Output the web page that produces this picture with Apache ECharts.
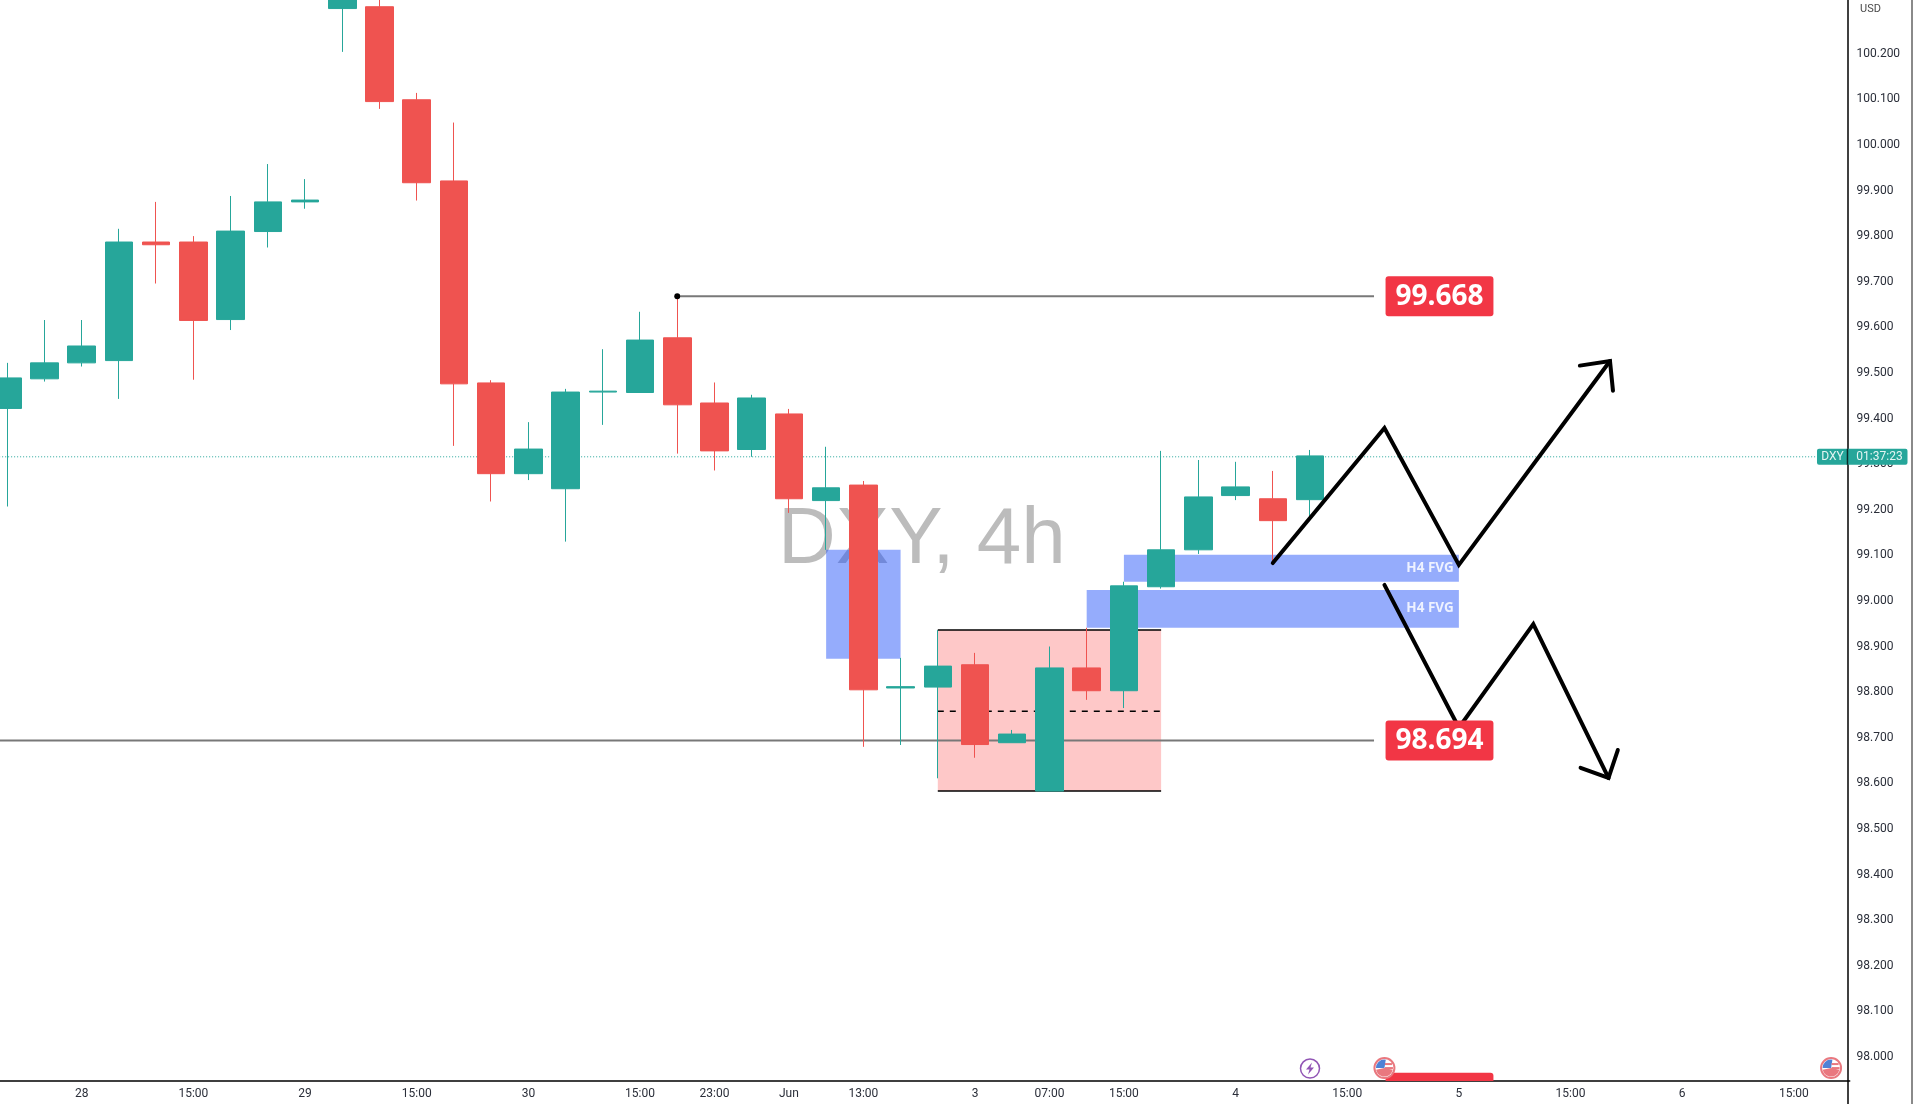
<!DOCTYPE html>
<html>
<head>
<meta charset="utf-8">
<title>DXY, 4h</title>
<style>
  html, body { margin: 0; padding: 0; background: #fff; width: 1913px; height: 1104px; overflow: hidden; }
  /* chart box is bigger than the window: candles and price axis run off the top and left edge */
  #main { position: absolute; left: -20px; top: -60px; width: 1933px; height: 1240px; }
</style>
<script src="https://cdn.jsdelivr.net/npm/echarts@6/dist/echarts.min.js"></script>
</head>
<body>
<div id="main"></div>
<script>
var categories = ['', '', '28', '', '', '15:00', '', '', '29', '', '', '15:00', '', '', '30', '', '', '15:00', '', '23:00',
    '', 'Jun', '', '13:00', '', '', '3', '', '07:00', '', '15:00', '', '', '4', '', '', '15:00', '', '', '5',
    '', '', '15:00', '', '', '6', '', '', '15:00', ''];

var opens = [99.422, 99.487, 99.522, 99.527, 99.787, 99.787, 99.617, 99.810, 99.875, 100.299, 100.303, 100.099,
    99.921, 99.478, 99.279, 99.246, 99.458, 99.457, 99.577, 99.434, 99.332, 99.410, 99.220, 99.254,
    98.809, 98.811, 98.860, 98.689, 98.583, 98.853, 98.803, 99.031, 99.112, 99.231, 99.224, 99.222];
var closes = [99.489, 99.522, 99.559, 99.787, 99.781, 99.615, 99.811, 99.875, 99.879, 100.351, 100.095, 99.917,
    99.476, 99.279, 99.333, 99.458, 99.460, 99.572, 99.430, 99.329, 99.445, 99.224, 99.248, 98.805,
    98.812, 98.857, 98.685, 98.708, 98.853, 98.803, 99.033, 99.112, 99.228, 99.250, 99.176, 99.318];
var lows = [99.207, 99.481, 99.514, 99.443, 99.696, 99.485, 99.594, 99.775, 99.860, 100.204, 100.079, 99.878,
    99.340, 99.218, 99.265, 99.130, 99.386, 99.457, 99.323, 99.286, 99.316, 99.193, 99.112, 98.680,
    98.684, 98.611, 98.656, 98.689, 98.583, 98.783, 98.765, 99.027, 99.103, 99.221, 99.083, 99.185];
var highs = [99.522, 99.616, 99.616, 99.816, 99.875, 99.800, 99.888, 99.958, 99.925, 100.373, 100.329, 100.114,
    100.049, 99.484, 99.392, 99.465, 99.552, 99.634, 99.669, 99.479, 99.452, 99.421, 99.338, 99.263,
    98.875, 98.936, 98.886, 98.717, 98.900, 98.941, 99.042, 99.329, 99.309, 99.305, 99.285, 99.331];

var lastPrice = 99.316;
var countdown = '01:37:23';
var levels = [99.668, 98.694];
// [from bar, to bar, top price, bottom price]
var fvgZones = [[22, 24, 99.112, 98.873], [30, 39, 99.101, 99.042], [29, 39, 99.024, 98.941]];
var pinkZone = [25, 31, 98.936, 98.583];
var pinkMid = 98.758;
var upPath = [[34, 99.083], [37, 99.379], [39, 99.079], [43.06, 99.526]];
var upHead = [[42.25, 99.516], [43.06, 99.526], [43.14, 99.461]];
var downPath = [[37, 99.035], [39, 98.722], [41, 98.949], [43.02, 98.612]];
var downHead = [[42.27, 98.634], [43.02, 98.612], [43.27, 98.673]];
var eventBarPrices = [97.965, 97.947];
var flagEventBars = [37, 49];
var boltEventBar = 35;

var candles = opens.map(function (o, i) {
    return [o, closes[i], lows[i], highs[i]];
});

var GREEN = '#26a69a';
var RED = '#ef5350';
var LABEL_RED = '#f23645';
var BLUE = 'rgba(33,82,248,0.48)';

// bar index may be fractional, the category axis only knows whole ones
function pt(api, x, price) {
    var ix = Math.max(0, Math.floor(x));
    var c = api.coord([ix, price]);
    c[0] += (x - ix) * api.size([1, 0])[0];
    return c;
}

function zoneRect(api, z, fill) {
    var a = pt(api, z[0], z[2]);
    var b = pt(api, z[1], z[3]);
    return { type: 'rect', shape: { x: a[0], y: a[1], width: b[0] - a[0], height: b[1] - a[1] }, style: { fill: fill } };
}

function hLine(api, x0, x1, price, stroke, width, dash) {
    var a = pt(api, x0, price);
    var b = pt(api, x1, price);
    return {
        type: 'line',
        shape: { x1: a[0], y1: a[1], x2: b[0], y2: b[1] },
        style: { stroke: stroke, lineWidth: width, lineDash: dash || null }
    };
}

function polyline(api, points) {
    return {
        type: 'polyline',
        shape: { points: points.map(function (p) { return pt(api, p[0], p[1]); }) },
        style: { stroke: '#000', lineWidth: 4, fill: null, lineJoin: 'miter', lineCap: 'round' }
    };
}

function renderZones(params, api) {
    var children = [];
    fvgZones.forEach(function (z) {
        children.push(zoneRect(api, z, BLUE));
    });
    children.push(zoneRect(api, pinkZone, '#fec8c8'));
    children.push(hLine(api, pinkZone[0], pinkZone[1], pinkZone[2], '#000', 1.5));
    children.push(hLine(api, pinkZone[0], pinkZone[1], pinkZone[3], '#000', 1.5));
    children.push(hLine(api, pinkZone[0], pinkZone[1], pinkMid, '#000', 1.5, [6, 6]));
    children.push(hLine(api, 18.08, 36.72, levels[0], '#787878', 2));
    children.push(hLine(api, -0.3, 36.72, levels[1], '#787878', 2));
    children.push(hLine(api, -0.3, 49.42, lastPrice, GREEN, 1, [1, 2]));
    return { type: 'group', children: children };
}

function renderLabels(params, api) {
    var band = api.size([1, 0])[0];
    var children = [];
    var dot = pt(api, 18, levels[0]);
    children.push({ type: 'circle', shape: { cx: dot[0], cy: dot[1], r: 3 }, style: { fill: '#000' } });
    [fvgZones[1], fvgZones[2]].forEach(function (z) {
        var c = pt(api, z[1], (z[2] + z[3]) / 2);
        children.push({
            type: 'text',
            style: { x: c[0] - 5, y: c[1] - 0.5, text: 'H4 FVG', fill: '#eef2ff', font: 'bold 13.5px "Open Sans"', align: 'right', verticalAlign: 'middle' }
        });
    });
    children.push(polyline(api, upPath), polyline(api, upHead), polyline(api, downPath), polyline(api, downHead));
    levels.forEach(function (p) {
        var c = pt(api, 37.03, p);
        children.push({
            type: 'rect',
            shape: { x: c[0], y: c[1] - 20, width: 4 * band - 41, height: 40, r: 3 },
            style: { fill: LABEL_RED }
        });
        children.push({
            type: 'text',
            style: { x: c[0] + (4 * band - 41) / 2, y: c[1] + 1, text: p.toFixed(3), fill: '#fff', font: 'bold 28px "Open Sans"', align: 'center', verticalAlign: 'middle' }
        });
    });
    var barTop = pt(api, 37.03, eventBarPrices[0]);
    var barBottom = pt(api, 37.03, eventBarPrices[1]);
    children.push({
        type: 'rect',
        shape: { x: barTop[0], y: barTop[1], width: 4 * band - 41, height: barBottom[1] - barTop[1], r: [3, 3, 0, 0] },
        style: { fill: LABEL_RED }
    });
    // event icons sit on the x axis
    flagEventBars.forEach(function (bar) {
        var c = [pt(api, bar, eventBarPrices[1])[0], barBottom[1] - 13];
        children.push({ type: 'circle', shape: { cx: c[0], cy: c[1], r: 10 }, style: { fill: '#fff', stroke: '#e9787f', lineWidth: 2 } });
        children.push({ type: 'sector', shape: { cx: c[0], cy: c[1], r: 8.5, r0: 0, startAngle: Math.PI, endAngle: Math.PI * 1.55 }, style: { fill: '#4f82d6' } });
        children.push({ type: 'rect', shape: { x: c[0] + 0.5, y: c[1] - 5, width: 7, height: 2 }, style: { fill: '#e9787f' } });
        children.push({ type: 'rect', shape: { x: c[0] + 0.5, y: c[1] - 1, width: 8, height: 2 }, style: { fill: '#e9787f' } });
        children.push({ type: 'sector', shape: { cx: c[0], cy: c[1], r: 8.5, r0: 0, startAngle: 0.2, endAngle: Math.PI - 0.2 }, style: { fill: '#e9787f' } });
    });
    var bolt = [pt(api, boltEventBar, eventBarPrices[1])[0], barBottom[1] - 12.5];
    children.push({ type: 'circle', shape: { cx: bolt[0], cy: bolt[1], r: 9.5 }, style: { fill: '#fff', stroke: '#9155b5', lineWidth: 1.5 } });
    children.push({
        type: 'polygon',
        shape: { points: [[bolt[0] + 2, bolt[1] - 6], [bolt[0] - 4, bolt[1] + 1], [bolt[0] - 0.5, bolt[1] + 1], [bolt[0] - 2, bolt[1] + 6], [bolt[0] + 4, bolt[1] - 1], [bolt[0] + 0.5, bolt[1] - 1]] },
        style: { fill: '#9155b5' }
    });
    // last price badge over the price axis
    var axisX = params.coordSys.x + params.coordSys.width - 2.2;
    var yLast = pt(api, 0, lastPrice)[1];
    children.push({ type: 'rect', shape: { x: axisX - 30.5, y: yLast - 8, width: 90.5, height: 16, r: 2 }, style: { fill: GREEN } });
    children.push({ type: 'line', shape: { x1: axisX, y1: yLast - 8, x2: axisX, y2: yLast + 8 }, style: { stroke: '#0a2a27', lineWidth: 1.5 } });
    children.push({ type: 'text', style: { x: axisX - 15, y: yLast + 0.5, text: 'DXY', fill: '#e4f5f3', font: '12px Roboto', align: 'center', verticalAlign: 'middle' } });
    children.push({ type: 'text', style: { x: axisX + 32, y: yLast + 0.5, text: countdown, fill: '#e4f5f3', font: '12px Roboto', align: 'center', verticalAlign: 'middle' } });
    return { type: 'group', children: children };
}

var myChart = echarts.init(document.getElementById('main'));
var option = {
    animation: false,
    backgroundColor: '#fff',
    tooltip: { show: false },
    grid: {
        left: 8.69,
        top: 22.5,
        width: 1861,
        height: 1185.6,
        containLabel: false
    },
    graphic: [
        {
            type: 'text',
            z: -1,
            left: 798,
            top: 561,
            style: { text: 'DXY, 4h', fill: 'rgba(95,95,95,0.42)', font: '80px "Liberation Sans"' }
        },
        {
            type: 'text',
            left: 1880,
            top: 64,
            style: { text: 'USD', fill: '#4a4a4a', font: '11px Roboto' }
        },
        {
            type: 'rect',
            left: 1931,
            top: 0,
            shape: { width: 2, height: 1240 },
            style: { fill: '#8a8a8a' }
        }
    ],
    xAxis: {
        type: 'category',
        data: categories,
        boundaryGap: true,
        position: 'bottom',
        offset: -67,
        axisLine: { onZero: false, lineStyle: { color: '#000', width: 1.5 } },
        axisTick: { show: false },
        splitLine: { show: false },
        axisLabel: { interval: 0, margin: 7, color: '#2a2e39', fontSize: 12, fontFamily: 'Roboto' }
    },
    yAxis: {
        type: 'value',
        position: 'right',
        offset: -2.2,
        min: 97.8,
        max: 100.4,
        interval: 0.1,
        axisLine: { show: true, lineStyle: { color: '#000', width: 1.5 } },
        axisTick: { show: false },
        splitLine: { show: false },
        axisLabel: {
            margin: 9,
            color: '#2a2e39',
            fontSize: 12,
            fontFamily: 'Roboto',
            padding: [2, 0, 0, 0],
            formatter: function (value) {
                return value >= 98 && value <= 100.2 ? value.toFixed(3) : '';
            }
        }
    },
    series: [
        {
            type: 'custom',
            z: 1,
            silent: true,
            renderItem: renderZones,
            data: [[0, lastPrice]]
        },
        {
            type: 'candlestick',
            z: 2,
            silent: true,
            barWidth: 28,
            itemStyle: {
                color: GREEN,
                color0: RED,
                borderColor: GREEN,
                borderColor0: RED,
                borderWidth: 1
            },
            data: candles
        },
        {
            type: 'custom',
            z: 5,
            silent: true,
            renderItem: renderLabels,
            data: [[0, lastPrice]]
        }
    ]
};
myChart.setOption(option);
</script>
</body>
</html>
